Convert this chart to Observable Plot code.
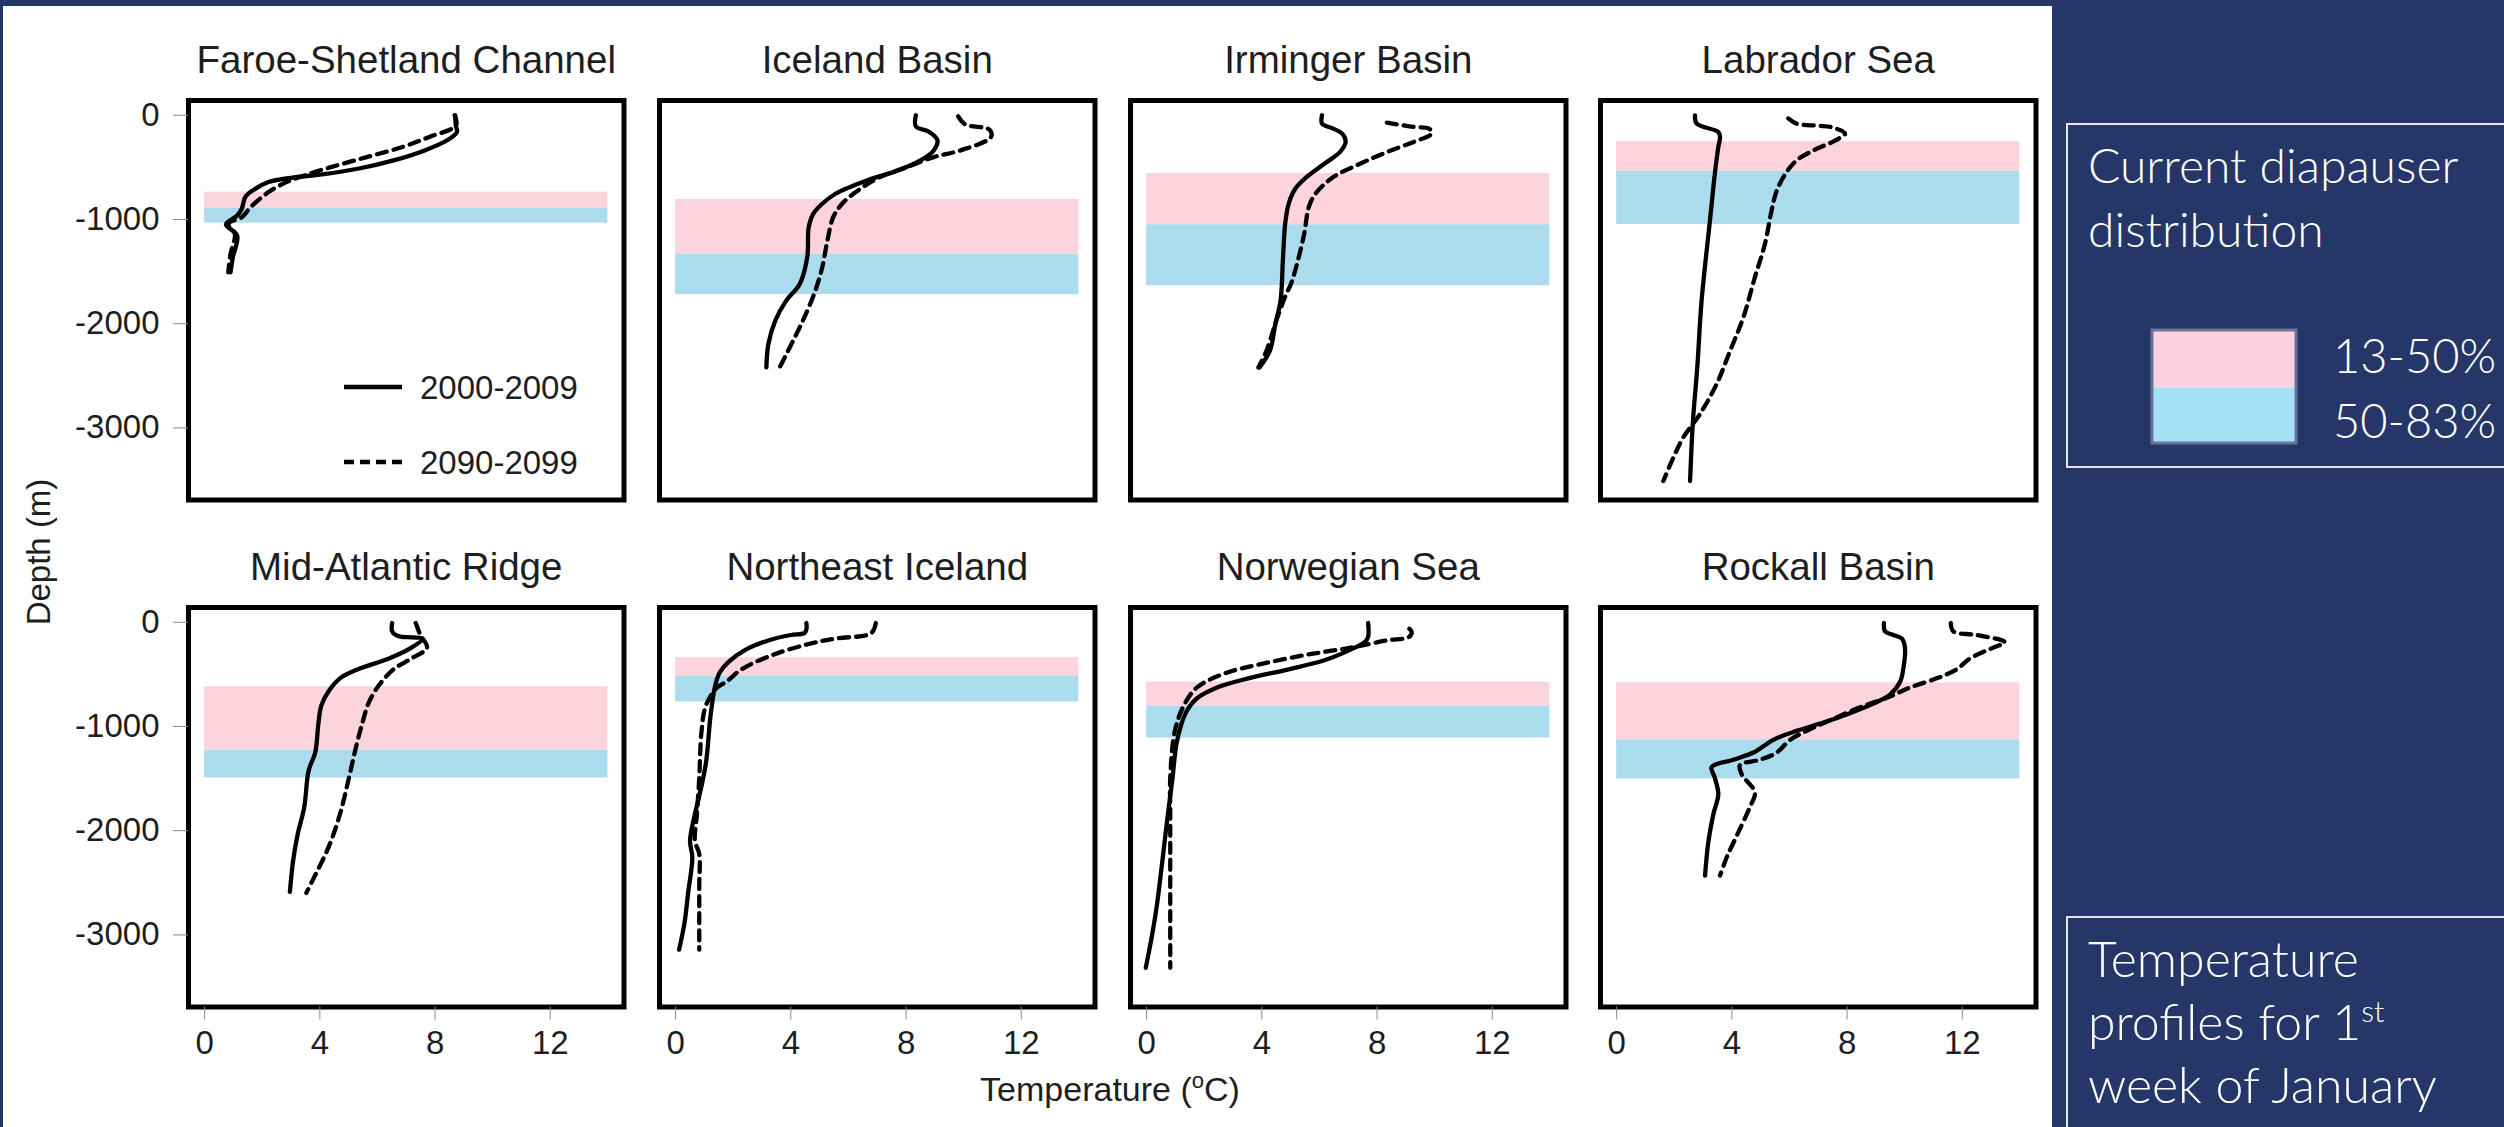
<!DOCTYPE html>
<html><head><meta charset="utf-8">
<script src="https://cdn.jsdelivr.net/npm/d3@7"></script>
<script src="https://cdn.jsdelivr.net/npm/@observablehq/plot@0.6"></script>
<style>
html,body{margin:0;padding:0;background:#253768;width:2504px;height:1127px;overflow:hidden;}
#page{position:relative;width:2504px;height:1127px;}
.panel{position:absolute;}
#decor{position:absolute;left:0;top:0;}
</style></head><body><div id="page"></div>
<script>
// ---------------- DATA ----------------
const regions = ["Faroe-Shetland Channel","Iceland Basin","Irminger Basin","Labrador Sea",
                 "Mid-Atlantic Ridge","Northeast Iceland","Norwegian Sea","Rockall Basin"];
const periods = ["2000-2009","2090-2099"];
const xTicks = [0, 4, 8, 12];
const yTicks = [0, -1000, -2000, -3000];
const tempDomain = [-0.56, 14.56];
const depthDomain = [-3692, 142];
const bandTemp = [0, 14];
// diapauser bands per region: [top, bottom] depth (m)
const band13to50 = [[-737,-891],[-808,-1336],[-558,-1051],[-253,-538],
                    [-618,-1229],[-340,-521],[-573,-805],[-580,-1128]];
const band50to83 = [[-891,-1035],[-1336,-1721],[-1051,-1635],[-538,-1048],
                    [-1229,-1493],[-521,-764],[-805,-1111],[-1128,-1503]];
// profiles: [temperature (°C), depth (m)]
const faroe2000 = [[8.70,0],[8.72,-100],[8.76,-160],[8.42,-240],[7.64,-337],[6.56,-433],[5.32,-513],[4.08,-567],[3.0,-600],[2.22,-641],[1.67,-721],[1.41,-785],[1.29,-897],[1.13,-962],[0.74,-1048],[1.13,-1154],[0.98,-1362],[0.90,-1506]];
const faroe2090 = [[8.68,0],[8.73,-96],[7.8,-208],[6.87,-304],[5.63,-401],[4.39,-497],[3.46,-577],[2.84,-641],[2.22,-737],[1.6,-881],[1.29,-978],[0.82,-1042],[1.05,-1138],[0.9,-1330],[0.82,-1506]];
const iceland2000 = [[8.34,0],[8.34,-106],[8.81,-160],[9.09,-240],[8.96,-337],[8.5,-433],[7.72,-529],[6.64,-625],[5.55,-753],[5.09,-849],[4.78,-945],[4.62,-1074],[4.57,-1362],[4.31,-1619],[3.84,-1779],[3.46,-1971],[3.22,-2195],[3.15,-2420]];
const iceland2090 = [[9.81,-10],[10.05,-87],[10.9,-138],[10.95,-208],[9.89,-337],[8.96,-401],[8.03,-497],[7.1,-593],[6.33,-721],[5.78,-849],[5.47,-978],[5.27,-1202],[5.09,-1458],[4.85,-1683],[4.47,-1939],[4.08,-2163],[3.61,-2420]];
const irminger2000 = [[6.09,0],[6.09,-80],[6.48,-128],[6.79,-176],[6.91,-256],[6.71,-353],[6.17,-465],[5.55,-593],[5.16,-705],[4.93,-849],[4.81,-1042],[4.73,-1394],[4.65,-1779],[4.47,-2003],[4.28,-2260],[3.92,-2420]];
const irminger2090 = [[8.34,-70],[9.27,-112],[9.81,-128],[9.89,-176],[9.27,-256],[8.34,-353],[7.41,-465],[6.48,-593],[5.86,-753],[5.63,-881],[5.47,-1138],[5.19,-1458],[5.01,-1619],[4.85,-1715],[4.54,-1939],[4.16,-2260],[3.88,-2420]];
const labrador2000 = [[2.72,0],[2.78,-80],[3.53,-160],[3.59,-208],[3.53,-304],[3.41,-561],[3.24,-1010],[2.95,-1779],[2.8,-2420],[2.65,-2933],[2.55,-3510]];
const labrador2090 = [[5.96,-30],[6.25,-80],[7.0,-100],[7.47,-115],[7.93,-176],[7.6,-240],[6.83,-337],[6.25,-433],[5.9,-545],[5.56,-721],[5.38,-913],[5.15,-1234],[4.80,-1555],[4.4,-1939],[3.94,-2260],[3.47,-2580],[2.89,-2869],[2.31,-3093],[1.97,-3285],[1.62,-3510]];
const midatl2000 = [[6.51,-7],[6.51,-87],[6.71,-132],[7.2,-145],[7.57,-156],[7.18,-243],[6.40,-347],[5.32,-451],[4.70,-538],[4.31,-660],[4.05,-799],[3.95,-972],[3.84,-1250],[3.61,-1424],[3.46,-1771],[3.22,-2048],[3.07,-2292],[2.96,-2587]];
const midatl2090 = [[7.33,-7],[7.49,-122],[7.72,-243],[7.18,-347],[6.56,-451],[6.09,-590],[5.71,-764],[5.47,-972],[5.24,-1215],[5.01,-1493],[4.70,-1840],[4.31,-2153],[3.77,-2465],[3.53,-2597]];
const neiceland2000 = [[4.54,-7],[4.54,-69],[4.47,-104],[4.0,-122],[3.22,-174],[2.45,-260],[1.83,-382],[1.52,-486],[1.36,-625],[1.21,-903],[1.05,-1354],[0.82,-1667],[0.67,-1840],[0.5,-2100],[0.58,-2257],[0.43,-2604],[0.31,-2882],[0.12,-3142]];
const neiceland2090 = [[6.95,-7],[6.79,-104],[5.55,-156],[4.62,-208],[3.38,-312],[2.29,-451],[1.75,-573],[1.44,-625],[1.05,-799],[0.9,-1042],[0.82,-1493],[0.74,-1840],[0.67,-2100],[0.82,-2222],[0.82,-2535],[0.82,-3142]];
const norwegian2000 = [[7.69,-7],[7.69,-139],[7.57,-191],[7.1,-260],[6.17,-365],[4.93,-451],[3.53,-538],[2.45,-625],[1.75,-729],[1.36,-868],[1.05,-1146],[0.9,-1493],[0.74,-1840],[0.59,-2187],[0.36,-2708],[0.2,-2986],[-0.03,-3316]];
const norwegian2090 = [[9.12,-62],[9.2,-90],[9.12,-139],[8.34,-174],[7.1,-243],[5.55,-312],[4.0,-399],[2.76,-486],[1.75,-625],[1.29,-799],[0.98,-1042],[0.82,-1493],[0.82,-1840],[0.82,-3316]];
const rockall2000 = [[9.28,-7],[9.32,-87],[9.61,-122],[9.9,-156],[10.01,-243],[9.95,-451],[9.84,-573],[9.49,-694],[8.91,-781],[7.99,-885],[7.06,-972],[6.25,-1042],[5.44,-1128],[4.75,-1250],[4.05,-1319],[3.30,-1389],[3.41,-1493],[3.53,-1649],[3.36,-1840],[3.18,-2118],[3.07,-2430]];
const rockall2090 = [[11.6,-7],[11.69,-87],[12.5,-122],[13.48,-191],[13.08,-243],[12.27,-347],[11.81,-451],[11.11,-538],[10.19,-625],[9.49,-712],[8.45,-816],[7.29,-955],[6.6,-1042],[6.02,-1128],[5.56,-1250],[4.98,-1319],[4.28,-1371],[4.34,-1458],[4.80,-1632],[4.63,-1771],[4.17,-2048],[3.82,-2257],[3.59,-2430]];
const profiles2000 = [faroe2000, iceland2000, irminger2000, labrador2000, midatl2000, neiceland2000, norwegian2000, rockall2000];
const profiles2090 = [faroe2090, iceland2090, irminger2090, labrador2090, midatl2090, neiceland2090, norwegian2090, rockall2090];

// ---------------- STYLE / LAYOUT ----------------
const PINK = "#fdd3dd", BLUE = "#abdcee";
const FONT = "'Liberation Sans', Arial, Helvetica, sans-serif";
const TEXT = "#1e1e1e";
const PLOT_W = 435.5, PLOT_H = 399.5;
const ML = 100, MR = 12, MT = 60, MB = 70;
const colLeft = c => 187.9 + c * 470.8;
const rowTop = [100, 607];

const page = document.getElementById("page");

// decorative background, labels, side boxes
const NS = "http://www.w3.org/2000/svg";
const decor = `
<svg id="decor" xmlns="${NS}" width="2504" height="1127">
  <rect x="0" y="0" width="2504" height="1127" fill="#253768"/>
  <rect x="3" y="6" width="2049" height="1121" fill="#ffffff"/>
  <text transform="translate(50,552) rotate(-90)" text-anchor="middle" font-family="${FONT}" font-size="33" fill="${TEXT}">Depth (m)</text>
  <text x="1110" y="1101" text-anchor="middle" font-family="${FONT}" font-size="34" fill="${TEXT}">Temperature (<tspan dy="-13" font-size="22">o</tspan><tspan dy="13">C)</tspan></text>
  <g font-family="${FONT}" font-size="33" fill="${TEXT}">
    <line x1="344" x2="402" y1="387" y2="387" stroke="black" stroke-width="4.3"/>
    <text x="420" y="387" dy="0.35em">${periods[0]}</text>
    <line x1="344" x2="402" y1="462" y2="462" stroke="black" stroke-width="4.3" stroke-dasharray="10,6"/>
    <text x="420" y="462" dy="0.35em">${periods[1]}</text>
  </g>
  <g font-family="Lato, 'Open Sans', sans-serif" font-weight="300" fill="#ffffff">
    <rect x="2067" y="124" width="460" height="343" fill="none" stroke="#e6e8f0" stroke-width="2"/>
    <text x="2088" y="183" font-size="48">Current diapauser</text>
    <text x="2088" y="247" font-size="48">distribution</text>
    <rect x="2152" y="330" width="144" height="58" fill="#fdd1df"/>
    <rect x="2152" y="388" width="144" height="55" fill="#a4e1f7"/>
    <rect x="2152" y="330" width="144" height="113" fill="none" stroke="#6a7398" stroke-width="3"/>
    <text x="2333" y="373" font-size="47">13-50%</text>
    <text x="2333" y="438" font-size="47">50-83%</text>
    <rect x="2067" y="917" width="460" height="300" fill="none" stroke="#e6e8f0" stroke-width="2"/>
    <text x="2088" y="977" font-size="50">Temperature</text>
    <text x="2088" y="1040" font-size="50">profiles for 1<tspan dy="-18" font-size="30">st</tspan></text>
    <text x="2088" y="1103" font-size="50">week of January</text>
  </g>
</svg>`;
page.insertAdjacentHTML("beforeend", decor);

regions.forEach((name, i) => {
  const r = Math.floor(i / 4), c = i % 4;
  const marks = [
    Plot.rect([band13to50[i]], {x1: () => bandTemp[0], x2: () => bandTemp[1], y1: d => d[0], y2: d => d[1], fill: PINK}),
    Plot.rect([band50to83[i]], {x1: () => bandTemp[0], x2: () => bandTemp[1], y1: d => d[0], y2: d => d[1], fill: BLUE}),
    Plot.line(profiles2000[i], {x: d => d[0], y: d => d[1], stroke: "black", strokeWidth: 4.3, curve: "catmull-rom"}),
    Plot.line(profiles2090[i], {x: d => d[0], y: d => d[1], stroke: "black", strokeWidth: 4.3, strokeDasharray: "10,7", curve: "catmull-rom"}),
    Plot.frame({stroke: "black", strokeWidth: 5}),
    Plot.text([name], {frameAnchor: "top", lineAnchor: "bottom", dy: -28, fontSize: 38.5, fill: TEXT})
  ];
  if (c === 0) marks.push(Plot.axisY({ticks: yTicks, tickSize: 15, tickPadding: 14, fontSize: 33,
      stroke: "#8a8a8a", fill: TEXT, label: null, tickFormat: d => String(d)}));
  if (r === 1) marks.push(Plot.axisX({ticks: xTicks, tickSize: 13, tickPadding: 11, fontSize: 33,
      stroke: "#8a8a8a", fill: TEXT, label: null, tickFormat: d => String(d)}));
  const svg = Plot.plot({
    width: PLOT_W + ML + MR, height: PLOT_H + MT + MB,
    marginLeft: ML, marginRight: MR, marginTop: MT, marginBottom: MB,
    x: {domain: tempDomain, axis: null},
    y: {domain: depthDomain, axis: null},
    style: {fontFamily: FONT, background: "transparent", overflow: "visible", color: TEXT},
    marks
  });
  svg.classList.add("panel");
  svg.style.left = (colLeft(c) - ML) + "px";
  svg.style.top = (rowTop[r] - MT) + "px";
  svg.style.position = "absolute";
  page.appendChild(svg);
});
</script></body></html>
